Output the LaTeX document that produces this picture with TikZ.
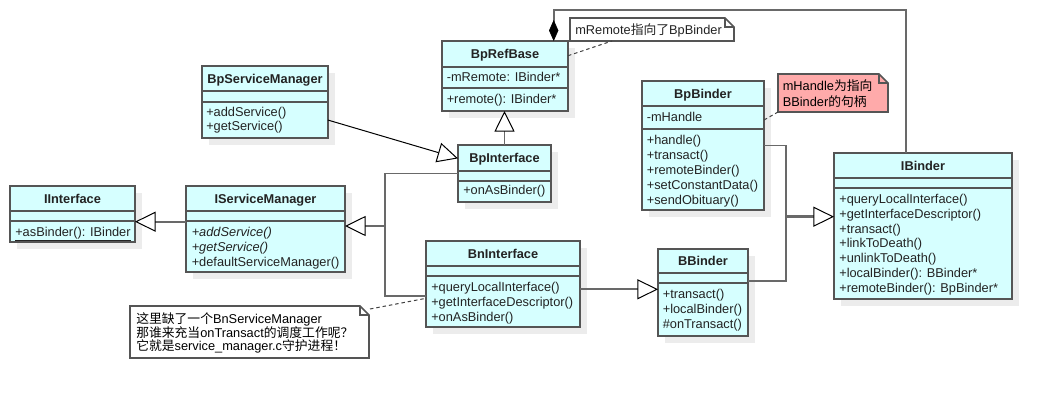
\documentclass[tikz,border=0pt]{standalone}
\usepackage{fontspec}
\setmainfont{Liberation Sans}
\newfontfamily\cjk{Noto Sans CJK SC}
\usetikzlibrary{arrows.meta,calc}
\definecolor{clsfill}{RGB}{214,255,255}
\definecolor{clsline}{RGB}{85,85,85}
\definecolor{conline}{RGB}{105,105,105}
\definecolor{shadowc}{RGB}{236,236,236}
\definecolor{notepink}{RGB}{255,170,170}
\definecolor{txt}{RGB}{35,35,35}
\tikzset{
  classbox/.style={draw=clsline, fill=clsfill, line width=1.4pt, inner sep=0pt, outer sep=0pt},
  clsborder/.style={draw=clsline, line width=1.4pt},
  titletext/.style={anchor=base, inner sep=0pt, font=\fontsize{9.6}{11.25}\selectfont\bfseries, text=txt},
  mem/.style={anchor=base west, inner sep=0pt, font=\fontsize{9.6}{11.25}\selectfont, text=txt},
  notebox/.style={inner sep=0pt, outer sep=0pt},
  noteline/.style={draw=clsline, line width=1.2pt},
  conn/.style={draw=conline, line width=1.3pt},
  thinconn/.style={draw=black, line width=0.75pt},
  gentip/.style={-{Triangle[length=15.4pt,width=15pt,color=black,fill=white,line width=0.75pt]}},
  dashline/.style={draw=black!75, line width=0.75pt, dash pattern=on 2.6pt off 2.2pt},
}
\newcommand\umlclass[8]{%
  \fill[shadowc] (#2+7,#3+7) rectangle (#4+7,#5+7);
  \node[classbox, minimum width={(#4-#2)*0.75pt}, minimum height={(#5-#3)*0.75pt}] (#1) at ({(#2+#4)/2},{(#3+#5)/2}) {};
  \draw[clsborder] (#2,#6) -- (#4,#6) (#2,#7) -- (#4,#7);
  \node[titletext] (#1-title) at ({(#2+#4)/2},{(#3+#6)/2+4.5}) {#8};
}
\newcommand\umlnote[6]{%
  \node[notebox, minimum width={(#4-#2)*0.75pt}, minimum height={(#5-#3)*0.75pt}] (#1) at ({(#2+#4)/2},{(#3+#5)/2}) {};
  \draw[noteline, fill=#6] (#1.south west) -- (#1.north west) -- ($(#1.north east)+(-9,0)$) -- ($(#1.north east)+(0,9)$) -- (#1.south east) -- cycle;
  \draw[noteline] ($(#1.north east)+(-9,0)$) |- ($(#1.north east)+(0,9)$);
}
\begin{document}
\begin{tikzpicture}[x=0.75pt, y=-0.75pt]
\fill[white] (0,0) rectangle (1052,400);
\useasboundingbox (0,0) rectangle (1052,400);

% classes
\umlclass{bprefbase}{442}{41}{568}{111}{67}{88}{BpRefBase}
\node[mem] (bprefbase-a0) at (446.5,76.7+4.5) {-mRemote: IBinder*};
\node[mem] (bprefbase-m0) at (446.5,99+4.5) {+remote(): IBinder*};

\umlclass{bpsm}{202}{66}{328}{138}{91}{102}{BpServiceManager}
\foreach \t [count=\i from 0] in {+addService(),+getService()}
  \node[mem] (bpsm-m\i) at (206,111.7+4.5+\i*14) {\t};

\umlclass{iinterface}{10}{186}{135}{242}{211}{221}{IInterface}
\node[mem] (iinterface-m0) at (15,231.7+4.5) {\underline{+asBinder(): IBinder}};

\umlclass{ism}{186}{186}{345}{272}{211}{221}{IServiceManager}
\foreach \t [count=\i from 0] in {{\itshape +addService()},{\itshape +getService()},+defaultServiceManager()}
  \node[mem] (ism-m\i) at (191.5,231.7+4.5+\i*15) {\t};

\umlclass{bpinterface}{458}{145}{551}{202}{171}{181}{BpInterface}
\node[mem] (bpinterface-m0) at (463,190+4.5) {+onAsBinder()};

\umlclass{bninterface}{426}{241}{580}{327}{266}{276}{BnInterface}
\foreach \t [count=\i from 0] in {+queryLocalInterface(),+getInterfaceDescriptor(),+onAsBinder()}
  \node[mem] (bninterface-m\i) at (431,287.3+4.5+\i*15) {\t};

\umlclass{bpbinder}{642}{81}{764}{210}{106}{129}{BpBinder}
\node[mem] (bpbinder-a0) at (646.5,116.7+4.5) {-mHandle};
\foreach \t [count=\i from 0] in {+handle(),+transact(),+remoteBinder(),+setConstantData(),+sendObituary()}
  \node[mem] (bpbinder-m\i) at (646.5,140+4.5+\i*15) {\t};

\umlclass{bbinder}{658}{249}{748}{336}{273}{283}{BBinder}
\foreach \t [count=\i from 0] in {+transact(),+localBinder(),\#onTransact()}
  \node[mem] (bbinder-m\i) at (662.5,294.3+4.5+\i*15) {\t};

\umlclass{ibinder}{834}{153}{1012}{299}{178}{188}{IBinder}
\foreach \t [count=\i from 0] in {+queryLocalInterface(),+getInterfaceDescriptor(),+transact(),+linkToDeath(),+unlinkToDeath(),+localBinder(): BBinder*,+remoteBinder(): BpBinder*}
  \node[mem] (ibinder-m\i) at (839,199.3+4.5+\i*14.7) {\t};

% notes
\umlnote{note1}{570}{18}{734}{41}{white}
\node[mem] (note1-t) at (575,30+4.5) {mRemote{\cjk 指向了}BpBinder};
\umlnote{note2}{778}{74}{888}{112}{notepink}
\node[mem, text=black] (note2-t1) at (782.5,86+4.5) {mHandle{\cjk 为指向}};
\node[mem, text=black] (note2-t2) at (782.5,101.7+4.5) {BBinder{\cjk 的句柄}};
\umlnote{note3}{130}{306}{369}{358}{white}
\node[mem, text=black] (note3-t1) at (136,319.3+4.5) {{\cjk 这里缺了一个}BnServiceManager};
\node[mem, text=black] (note3-t2) at (136,332.7+4.5) {{\cjk 那谁来充当}onTransact{\cjk 的调度工作呢？}};
\node[mem, text=black] (note3-t3) at (136,346+4.5) {{\cjk 它就是}service\_manager.c{\cjk 守护进程！}};

% connectors
\coordinate (cA) at (553.7,10);
\coordinate (cB) at (906,10);
\draw[conn, {Diamond[length=15.75pt,width=7pt,color=black,fill=black,line width=0.5pt]}-] (bprefbase.north -| cA) -- (cA) -- (cB) -- (cB |- ibinder.north);

\draw[conn, gentip] (bpinterface.north) -- (bpinterface.north |- bprefbase.south);
\draw[thinconn, gentip] (bpsm.-16.8) -- (bpinterface.162.7);

\coordinate (g1) at ($(ism.west)+(0,-7.3)$);
\draw[conn, gentip] (g1) -- (g1 -| iinterface.east);

\coordinate (j1) at (385,226);
\coordinate (bnI) at ($(bninterface.west)+(0,12)$);
\draw[conn] (bpinterface.west) -| (j1);
\draw[conn] (bnI) -| (j1);
\draw[conn, line width=1.9pt, gentip] (j1) -- (j1 -| ism.east);

\coordinate (g2) at ($(bninterface.east)+(0,5.3)$);
\draw[conn, gentip] (g2) -- (g2 -| bbinder.west);

\coordinate (j2) at (785.7,216.7);
\coordinate (bbE) at ($(bbinder.east)+(0,-11.5)$);
\draw[conn] (bpbinder.east) -| (j2);
\draw[conn] (bbE) -| (j2);
\draw[conn, line width=1.9pt, gentip] (j2) -- (j2 -| ibinder.west);

\draw[dashline] ($(bprefbase.east)+(0,-20.3)$) -- ($(note1.south west)+(42,0)$);
\draw[dashline] ($(bpbinder.east)+(0,-25.5)$) -- (note2.south west);
\draw[dashline] ($(note3.north east)+(1,3)$) -- ($(bninterface.west)+(0,14.3)$);
\end{tikzpicture}
\end{document}
